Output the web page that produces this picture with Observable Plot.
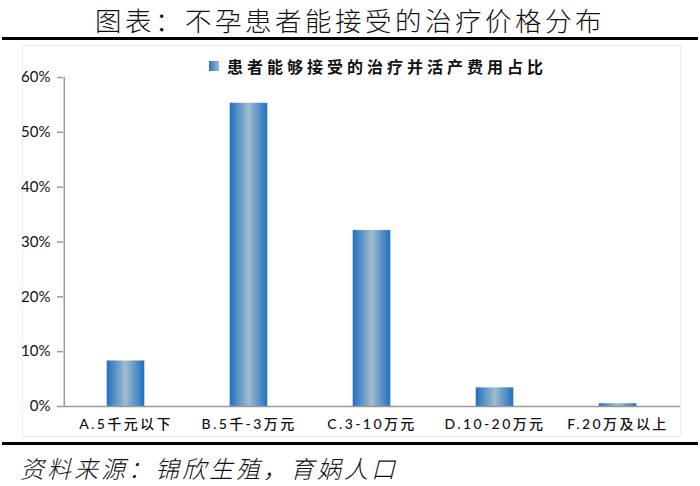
<!DOCTYPE html>
<html><head><meta charset="utf-8">
<script src="https://cdn.jsdelivr.net/npm/d3@7"></script>
<script src="https://cdn.jsdelivr.net/npm/@observablehq/plot@0.6"></script>
<style>
body{margin:0;width:700px;height:486px;background:#fff;position:relative;overflow:hidden;font-family:"Noto Sans CJK SC",sans-serif;}
#title{position:absolute;left:60px;top:0;width:580px;text-align:center;font-size:26.5px;line-height:normal;font-weight:300;letter-spacing:3.5px;color:#111;white-space:nowrap;}
.rule{position:absolute;left:2px;width:696px;height:3px;background:#000;}
#box{position:absolute;left:22px;top:45px;width:659px;height:392px;border:1px solid #ececec;box-sizing:border-box;}
#chart{position:absolute;left:0;top:45px;}
#chart g[aria-label="x-axis tick label"] text{letter-spacing:2.4px;}
#legend{position:absolute;left:209px;top:55px;font-size:16px;line-height:22px;font-weight:700;letter-spacing:4px;color:#111;display:flex;align-items:center;}
#legend .sw{display:inline-block;width:10px;height:10px;margin-right:8px;background:linear-gradient(90deg,#2a78c6,#9cbad0);}
#source{position:absolute;left:20px;top:450px;font-size:24px;line-height:normal;font-weight:300;font-style:italic;letter-spacing:3px;color:#111;}
</style></head><body>
<div id="title">图表：不孕患者能接受的治疗价格分布</div>
<div class="rule" style="top:37px"></div>
<div id="box"></div>
<div id="chart"></div>
<div id="legend"><span class="sw"></span>患者能够接受的治疗并活产费用占比</div>
<div class="rule" style="top:442px"></div>
<div id="source">资料来源：锦欣生殖，育娲人口</div>
<script>
const categories = ["A.5千元以下", "B.5千-3万元", "C.3-10万元", "D.10-20万元", "F.20万及以上"];
const shares = [8.3, 55.3, 32.1, 3.4, 0.5];
const yTicks = [0, 10, 20, 30, 40, 50, 60];

const data = categories.map((c, i) => ({category: c, share: shares[i]}));

const W = 700, H = 395, ML = 63, MR = 20, MT = 32, MB = 34;
const step = (W - ML - MR) / categories.length;

const defs = () => {
  const d = d3.create("svg:defs");
  const g = d.append("linearGradient").attr("id", "barGrad").attr("x1", "0").attr("x2", "1").attr("y1", "0").attr("y2", "0");
  g.append("stop").attr("offset", "0%").attr("stop-color", "#1f70c2");
  g.append("stop").attr("offset", "50%").attr("stop-color", "#a0bccd");
  g.append("stop").attr("offset", "100%").attr("stop-color", "#1f70c2");
  return d.node();
};

const chart = Plot.plot({
  width: W, height: H,
  marginLeft: ML, marginRight: MR, marginTop: MT, marginBottom: MB,
  style: {background: "transparent", overflow: "visible"},
  x: {domain: categories, padding: 0, axis: null},
  y: {domain: [0, 60], axis: null},
  marks: [
    defs,
    Plot.barY(data, {x: "category", y: "share", fill: "url(#barGrad)", insetLeft: 42.7, insetRight: 42.7}),
    Plot.ruleY([0], {stroke: "#999", strokeWidth: 1.5}),
    Plot.ruleX(categories, {x: d => d, dx: -step / 2, y1: -0.08, y2: d => d === categories[0] ? 60 : 0, stroke: "#999", strokeWidth: 1.5}),
    Plot.axisY({ticks: yTicks, tickFormat: d => d + "%", tickSize: 6, tickPadding: 7, stroke: "#999", strokeWidth: 1.5, fontSize: 15, fill: "#111", label: null, fontFamily: "Lato, 'Noto Sans CJK SC', sans-serif"}),
    Plot.axisX({tickSize: 0, tickPadding: 13, fontSize: 14, fill: "#111", label: null, fontFamily: "Lato, 'Noto Sans CJK SC', sans-serif", fontWeight: 500})
  ]
});
document.getElementById("chart").appendChild(chart);
</script>
</body></html>
